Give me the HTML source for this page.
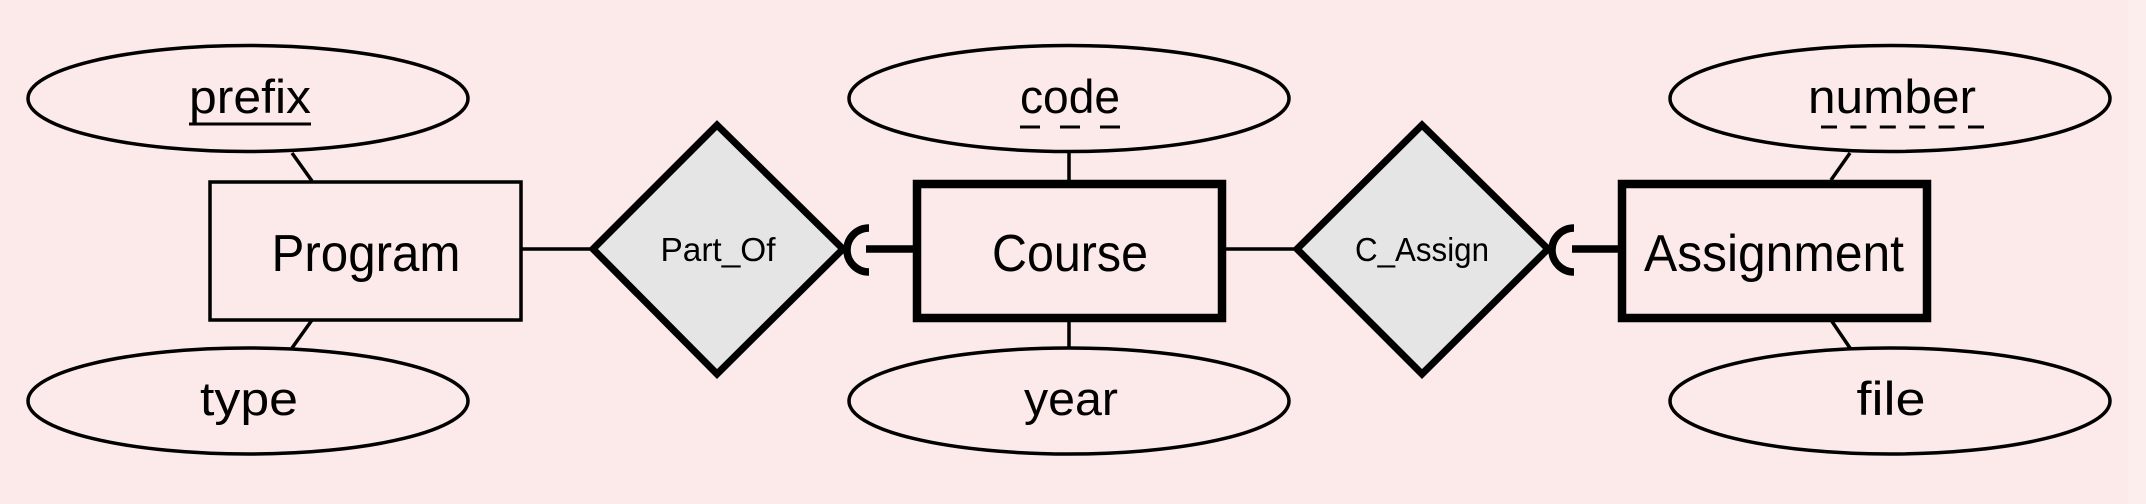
<!DOCTYPE html>
<html><head><meta charset="utf-8"><style>
html,body{margin:0;padding:0;background:#fce9ea;}
svg{display:block}
text{font-family:"Liberation Sans",sans-serif;fill:#000;}
</style></head><body>
<svg width="2146" height="504" viewBox="0 0 2146 504" xmlns="http://www.w3.org/2000/svg">
<rect x="0" y="0" width="2146" height="504" fill="#fce9ea"/>
<rect x="2128" y="0" width="18" height="504" fill="#fdeeee"/>
<g fill="none" stroke="#000" stroke-width="3.5">
<ellipse cx="248" cy="98.5" rx="220" ry="53"/>
<ellipse cx="248" cy="401" rx="220" ry="53"/>
<ellipse cx="1069" cy="98.5" rx="220" ry="53"/>
<ellipse cx="1069" cy="401" rx="220" ry="53"/>
<ellipse cx="1890" cy="98.5" rx="220" ry="53"/>
<ellipse cx="1890" cy="401" rx="220" ry="53"/>
<line x1="292" y1="153" x2="312" y2="181"/>
<line x1="312" y1="320" x2="292" y2="348"/>
<line x1="1069" y1="152" x2="1069" y2="180"/>
<line x1="1069" y1="320" x2="1069" y2="348"/>
<line x1="1850" y1="153" x2="1831" y2="180"/>
<line x1="1831" y1="320" x2="1850" y2="348"/>
<line x1="521" y1="249" x2="595" y2="249"/>
<line x1="1226" y1="249" x2="1299" y2="249"/>
<rect x="210" y="182" width="311" height="138"/>
</g>
<g fill="#e5e5e5" stroke="#000" stroke-width="7">
<polygon points="593,249 717,125 843,249 717,374"/>
<polygon points="1297,249 1422,125 1548,249 1422,374"/>
</g>
<g fill="none" stroke="#000" stroke-width="8.5">
<rect x="917" y="184" width="305" height="134"/>
<rect x="1622" y="184" width="305" height="134"/>
</g>
<g fill="none" stroke="#000" stroke-width="7.5">
<line x1="866" y1="249" x2="913" y2="249"/>
<path d="M869,228 A22 22 0 0 0 869,272"/>
<line x1="1572" y1="249" x2="1618" y2="249"/>
<path d="M1574,228 A22 22 0 0 0 1574,272"/>
</g>
<g font-size="52" text-anchor="middle">
<text x="366" y="271" textLength="189" lengthAdjust="spacingAndGlyphs">Program</text>
<text x="1070" y="271" textLength="156" lengthAdjust="spacingAndGlyphs">Course</text>
<text x="1774" y="271" textLength="260" lengthAdjust="spacingAndGlyphs">Assignment</text>
</g>
<g font-size="47" text-anchor="middle">
<text x="250" y="113" textLength="122" lengthAdjust="spacingAndGlyphs">prefix</text>
<text x="249" y="415" textLength="98" lengthAdjust="spacingAndGlyphs">type</text>
<text x="1070" y="113" textLength="100" lengthAdjust="spacingAndGlyphs">code</text>
<text x="1071" y="415" textLength="94" lengthAdjust="spacingAndGlyphs">year</text>
<text x="1892" y="113" textLength="168" lengthAdjust="spacingAndGlyphs">number</text>
<text x="1891" y="415" textLength="69" lengthAdjust="spacingAndGlyphs">file</text>
</g>
<g font-size="33" text-anchor="middle">
<text x="718" y="261" textLength="115" lengthAdjust="spacingAndGlyphs">Part_Of</text>
<text x="1422" y="261" textLength="134" lengthAdjust="spacingAndGlyphs">C_Assign</text>
</g>
<g stroke="#000" stroke-width="3" fill="none">
<line x1="189" y1="124" x2="311" y2="124"/>
<line x1="1020" y1="127" x2="1120" y2="127" stroke-dasharray="20,20"/>
<line x1="1821" y1="127" x2="1984" y2="127" stroke-dasharray="16,13.4"/>
</g>
</svg>
</body></html>
